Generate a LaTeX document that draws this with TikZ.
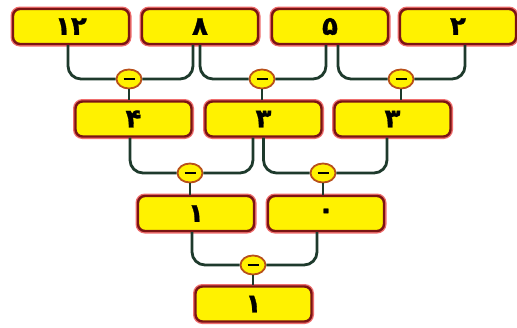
\documentclass[tikz,border=0pt]{standalone}
\usepackage{fontspec}
\newfontfamily\fa[Script=Arabic,BoldFeatures={FakeBold=1.2}]{DejaVu Sans}
\usetikzlibrary{shapes.geometric}
\definecolor{byel}{HTML}{FFF200}
\definecolor{bbrd}{HTML}{7A1414}
\definecolor{bglow}{HTML}{E83030}
\definecolor{lnk}{HTML}{1E3A2C}
\definecolor{ovb}{HTML}{B8501A}
\tikzset{
 numbox/.style={rectangle, rounded corners=7pt, fill=byel, draw=bbrd, line width=2.4pt,
   minimum width=116pt, minimum height=35pt, inner sep=0pt,
   font=\fa\bfseries\fontsize{26}{26}\selectfont,
   preaction={draw=bglow!70, line width=5pt}},
 minus/.style={ellipse, fill=byel, draw=ovb, line width=1.8pt, minimum width=25pt,
   minimum height=19pt, inner sep=0pt,
   path picture={\draw[line width=2.6pt,black] ([xshift=-5.5pt]path picture bounding box.center) -- ([xshift=5.5pt]path picture bounding box.center);}},
 link/.style={draw=lnk, line width=2.8pt, rounded corners=13pt},
}
\begin{document}
\begin{tikzpicture}[x=1pt,y=-1pt]
\useasboundingbox[fill=white] (0,0) rectangle (517,327);
% boxes
\node[numbox] (a1) at (71,26.5) {۱۲};
\node[numbox] (a2) at (200,26.5) {۸};
\node[numbox] (a3) at (330,26.5) {۵};
\node[numbox] (a4) at (458,26.5) {۲};
\node[numbox] (b1) at (133.5,119) {۴};
\node[numbox] (b2) at (263.5,119) {۳};
\node[numbox] (b3) at (392.5,119) {۳};
\node[numbox] (c1) at (196,213.5) {۱};
\node[numbox] (c2) at (326,213.5) {۰};
\node[numbox] (d1) at (253.5,304) {۱};
% minus ovals
\node[minus] (m1) at (129,79) {};
\node[minus] (m2) at (262,79) {};
\node[minus] (m3) at (401,79) {};
\node[minus] (n1) at (190,173) {};
\node[minus] (n2) at (323,173) {};
\node[minus] (o1) at (253,265) {};
% connectors
\draw[link] ([xshift=-3pt]a1.south) |- (m1.west);
\draw[link] (m1.east) -| ([xshift=-7pt]a2.south);
\draw[link] (m1.south) -- (m1.south |- b1.north);
\draw[link] (a2.south) |- (m2.west);
\draw[link] (m2.east) -| ([xshift=-4pt]a3.south);
\draw[link] (m2.south) -- (m2.south |- b2.north);
\draw[link] ([xshift=8pt]a3.south) |- (m3.west);
\draw[link] (m3.east) -| ([xshift=7pt]a4.south);
\draw[link] (m3.south) -- (m3.south |- b3.north);
\draw[link] ([xshift=-3.5pt]b1.south) |- (n1.west);
\draw[link] (n1.east) -| ([xshift=-10.5pt]b2.south);
\draw[link] (n1.south) -- (n1.south |- c1.north);
\draw[link] (b2.south) |- (n2.west);
\draw[link] (n2.east) -| ([xshift=-5.5pt]b3.south);
\draw[link] (n2.south) -- (n2.south |- c2.north);
\draw[link] ([xshift=-4pt]c1.south) |- (o1.west);
\draw[link] (o1.east) -| ([xshift=-9pt]c2.south);
\draw[link] (o1.south) -- (o1.south |- d1.north);
\end{tikzpicture}
\end{document}
